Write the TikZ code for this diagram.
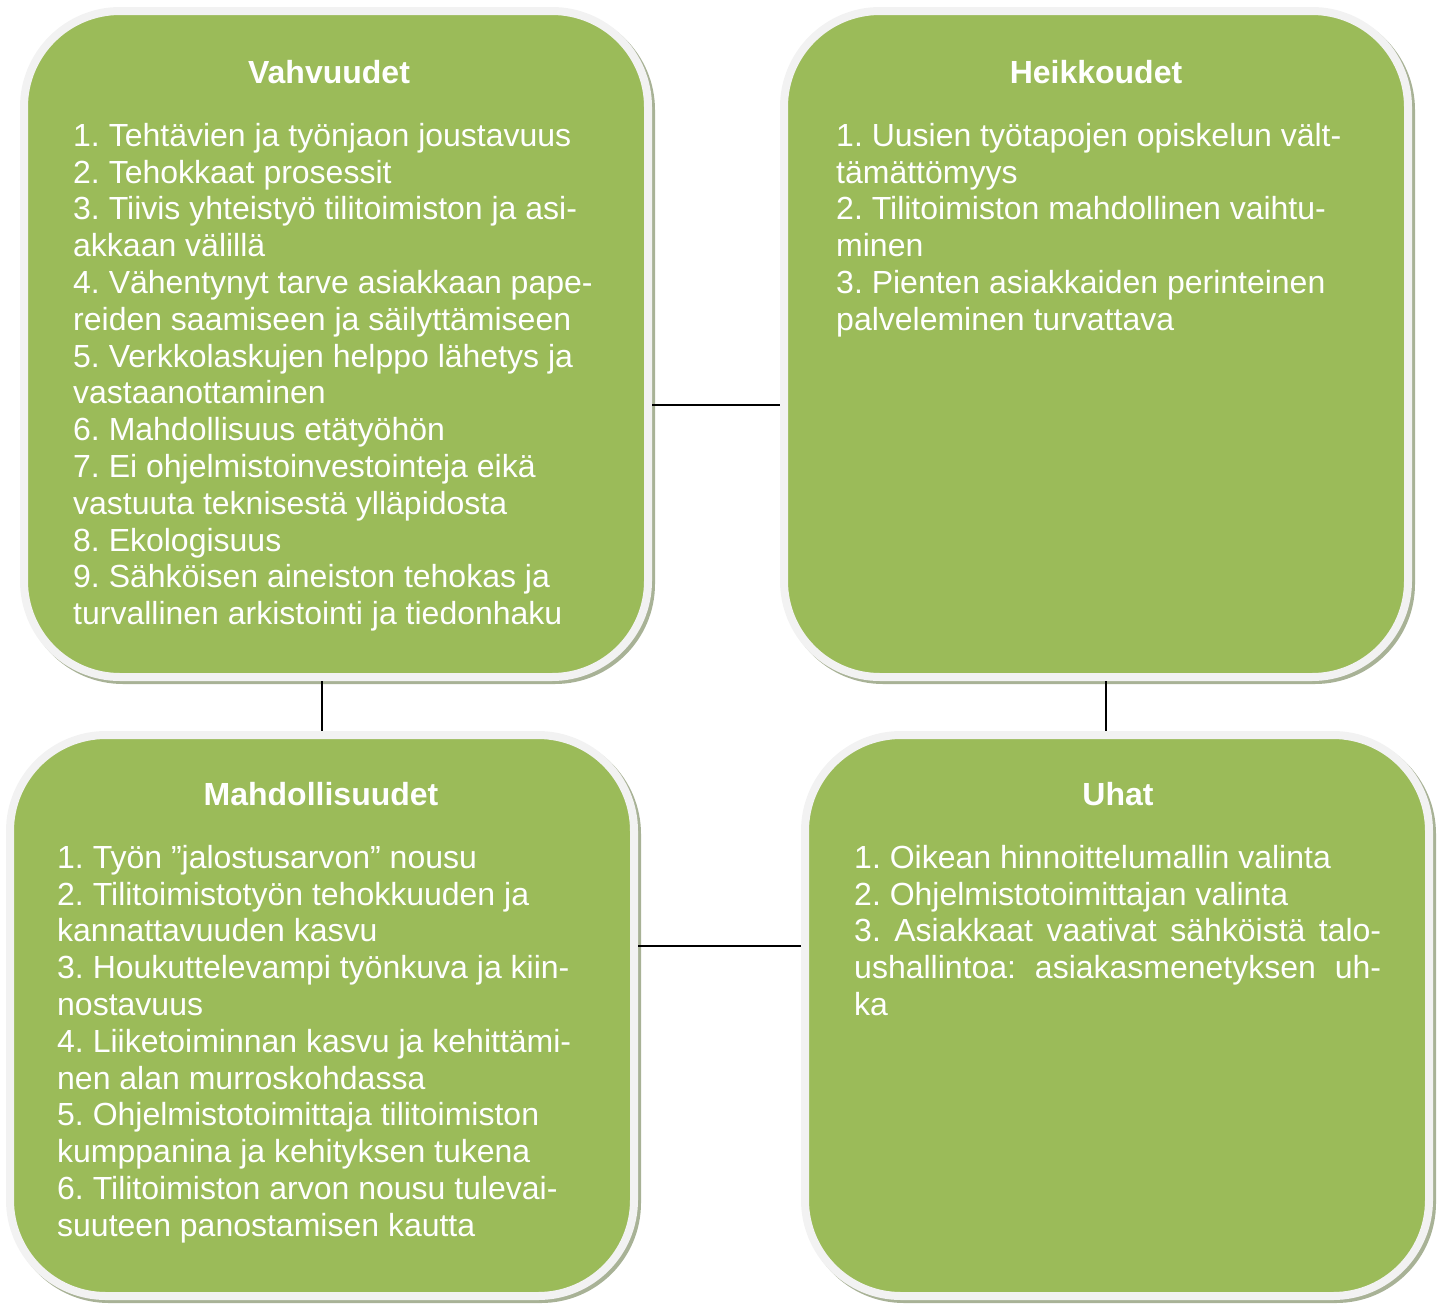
\documentclass[tikz,border=0pt]{standalone}
\usepackage{fontspec}
\setmainfont{Liberation Sans}
\frenchspacing
\usetikzlibrary{shadows,positioning}
\definecolor{swotgreen}{HTML}{9BBB59}
\definecolor{rimgray}{HTML}{F2F2F2}
\definecolor{shadowgray}{HTML}{A8B296}
\tikzset{quadrant/.style={rectangle,rounded corners=96pt,fill=swotgreen,draw=rimgray,line width=8pt,minimum width=624pt,
    drop shadow={shadow xshift=3pt,shadow yshift=-3pt,fill=shadowgray,draw=shadowgray,line width=8pt,opacity=1}}}
\tikzset{heading/.style={anchor=base,inner sep=0pt,text=white,font=\fontsize{32}{36.8}\selectfont\bfseries}}
\tikzset{itemlist/.style={anchor=north west,inner sep=0pt,align=left,text=white,font=\fontsize{32}{36.8}\selectfont}}
\tikzset{link/.style={line width=1.6pt,draw=black}}
\newcommand{\firstline}{\rule{0pt}{30pt}}

\begin{document}
\begin{tikzpicture}[x=1pt,y=-1pt]
    \useasboundingbox (0,0) rectangle (1443,1304);
    % the four quadrants
    \node[quadrant,minimum height=666pt] (vahv) at (336,344) {};
    \node[quadrant,minimum height=666pt] (heik) at (1096,344) {};
    \node[quadrant,minimum height=561pt] (mahd) at (322,1015.5) {};
    \node[quadrant,minimum height=561pt] (uhat) at (1117,1015.5) {};

    \node[heading] (vahvtitle) at (329,83) {Vahvuudet};
    \node[itemlist] (vahvlist) at (73,116) {\firstline1. Tehtävien ja työnjaon joustavuus\\
        2. Tehokkaat prosessit\\
        3. Tiivis yhteistyö tilitoimiston ja asi-\\
        akkaan välillä\\
        4. Vähentynyt tarve asiakkaan pape-\\
        reiden saamiseen ja säilyttämiseen\\
        5. Verkkolaskujen helppo lähetys ja\\
        vastaanottaminen\\
        6. Mahdollisuus etätyöhön\\
        7. Ei ohjelmistoinvestointeja eikä\\
        vastuuta teknisestä ylläpidosta\\
        8. Ekologisuus\\
        9. Sähköisen aineiston tehokas ja\\
        turvallinen arkistointi ja tiedonhaku};

    \node[heading] (heiktitle) at (1096,83) {Heikkoudet};
    \node[itemlist] (heiklist) at (836,116) {\firstline1. Uusien työtapojen opiskelun vält-\\
        tämättömyys\\
        2. Tilitoimiston mahdollinen vaihtu-\\
        minen\\
        3. Pienten asiakkaiden perinteinen\\
        palveleminen turvattava};

    \node[heading] (mahdtitle) at (321,805) {Mahdollisuudet};
    \node[itemlist] (mahdlist) at (57,838) {\firstline1. Työn ”jalostusarvon” nousu\\
        2. Tilitoimistotyön tehokkuuden ja\\
        kannattavuuden kasvu\\
        3. Houkuttelevampi työnkuva ja kiin-\\
        nostavuus\\
        4. Liiketoiminnan kasvu ja kehittämi-\\
        nen alan murroskohdassa\\
        5. Ohjelmistotoimittaja tilitoimiston\\
        kumppanina ja kehityksen tukena\\
        6. Tilitoimiston arvon nousu tulevai-\\
        suuteen panostamisen kautta};

    \node[heading] (uhattitle) at (1118,805) {Uhat};
    \node[itemlist] (uhatlist) at (854,838) {\firstline1. Oikean hinnoittelumallin valinta\\
        2. Ohjelmistotoimittajan valinta\\
        \makebox[527pt][s]{3. Asiakkaat vaativat sähköistä talo-}\\
        \makebox[527pt][s]{ushallintoa: asiakasmenetyksen uh-}\\
        ka};

    % connectors
    \path[link] ([yshift=-61pt]vahv.east) edge ([yshift=-61pt]heik.west)
        (vahv.south -| mahd.north) edge (mahd.north)
        ([xshift=-11pt]uhat.north |- heik.south) edge ([xshift=-11pt]uhat.north)
        ([yshift=69.5pt]mahd.east) edge ([yshift=69.5pt]uhat.west);
\end{tikzpicture}
\end{document}
